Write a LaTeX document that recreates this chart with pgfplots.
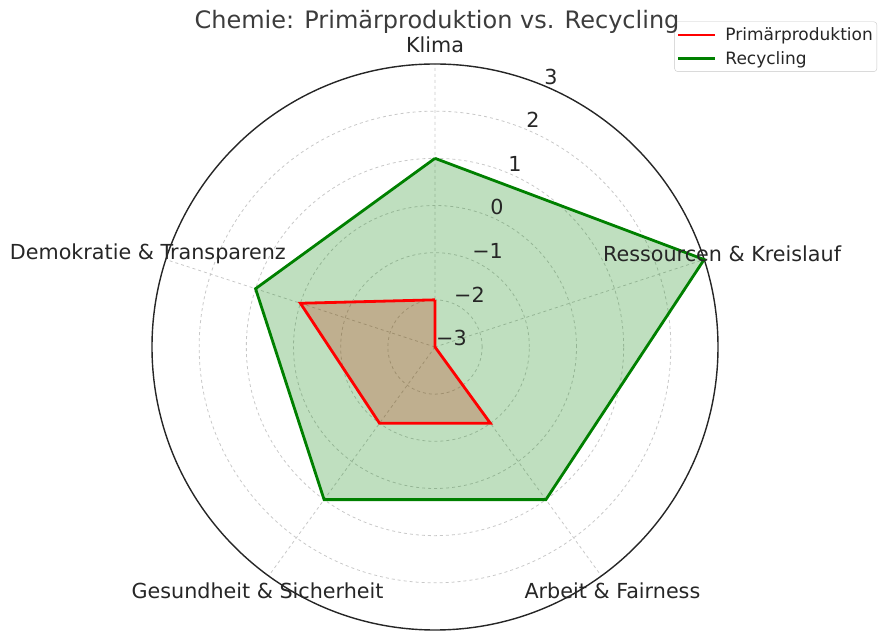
\documentclass[border=0pt]{standalone}
\usepackage{pgfplots}
\pgfplotsset{compat=1.18}
\usepgfplotslibrary{polar}
\usepackage{fontspec}
\setmainfont{DejaVu Sans}
\definecolor{mplred}{RGB}{255,0,0}
\definecolor{mplgreen}{RGB}{0,128,0}
\definecolor{txt}{RGB}{38,38,38}
\definecolor{gridc}{RGB}{200,200,200}

\begin{document}
\begin{tikzpicture}
\path[use as bounding box] (0,0) rectangle (878pt,631pt);
\begin{polaraxis}[
  at={(435pt,284pt)}, anchor=center,
  scale only axis, width=566pt, height=566pt,
  ymin=0, ymax=6,
  xtick={90,18,306,234,162}, xticklabels={},
  ytick={1,2,3,4,5}, yticklabels={},
  xmajorgrids, ymajorgrids,
  grid style={gridc, dashed, line width=0.8pt},
  separate axis lines,
  x axis line style={txt, line width=1.4pt},
  y axis line style={draw=none},
  major tick length=0pt,
  clip=false,
  legend cell align=left,
  legend image code/.code={
    \draw[#1, line width=2.8pt] (0pt,0pt) -- (37pt,0pt);
    \path (44pt,0pt);},
  legend style={
    at={(axis description cs:1.281,1.075)}, anchor=north east,
    draw=gridc, rounded corners=3pt, fill=white, fill opacity=0.8, text opacity=1,
    font=\fontsize{17}{20}\selectfont, text=txt,
    inner xsep=2pt, inner ysep=4pt, row sep=5pt,
  },
]
% filled areas (values shifted by +3 so that -3 sits at the centre)
\addplot[draw=none, fill=mplred, fill opacity=0.25, forget plot] coordinates {
  (90,1) (18,0) (306,2) (234,2) (162,3) (90,1)
};
\addplot[draw=none, fill=mplgreen, fill opacity=0.25, forget plot] coordinates {
  (90,4) (18,6) (306,4) (234,4) (162,4) (90,4)
};
\addplot[mplred, line width=2.8pt, line join=miter] coordinates {
  (90,1) (18,0) (306,2) (234,2) (162,3) (90,1)
};
\addlegendentry{Primärproduktion}
\addplot[mplgreen, line width=2.8pt, line join=miter] coordinates {
  (90,4) (18,6) (306,4) (234,4) (162,4) (90,4)
};
\addlegendentry{Recycling}

% category labels
\begin{scope}[every node/.style={font=\fontsize{20.7}{24}\selectfont, text=txt}]
\node at (axis cs:90,6.4) {Klima};
\node at (axis cs:18,6.4) {Ressourcen \& Kreislauf};
\node at (axis cs:306,6.4) {Arbeit \& Fairness};
\node at (axis cs:234,6.4) {Gesundheit \& Sicherheit};
\node at (axis cs:162,6.4) {Demokratie \& Transparenz};
\end{scope}
% radial tick labels
\begin{scope}[every node/.style={font=\fontsize{20.7}{24}\selectfont, text=txt, anchor=south west, inner sep=1pt}]
\node at (axis cs:67.5,0) {−3};
\node at (axis cs:67.5,1) {−2};
\node at (axis cs:67.5,2) {−1};
\node at (axis cs:67.5,3) {0};
\node at (axis cs:67.5,4) {1};
\node at (axis cs:67.5,5) {2};
\node at (axis cs:67.5,6) {3};
\end{scope}
\end{polaraxis}
\node[font=\fontsize{24}{28}\selectfont, text=txt!90!white] at (437pt,609pt)
  {Chemie: Primärproduktion vs. Recycling};
\end{tikzpicture}
\end{document}
